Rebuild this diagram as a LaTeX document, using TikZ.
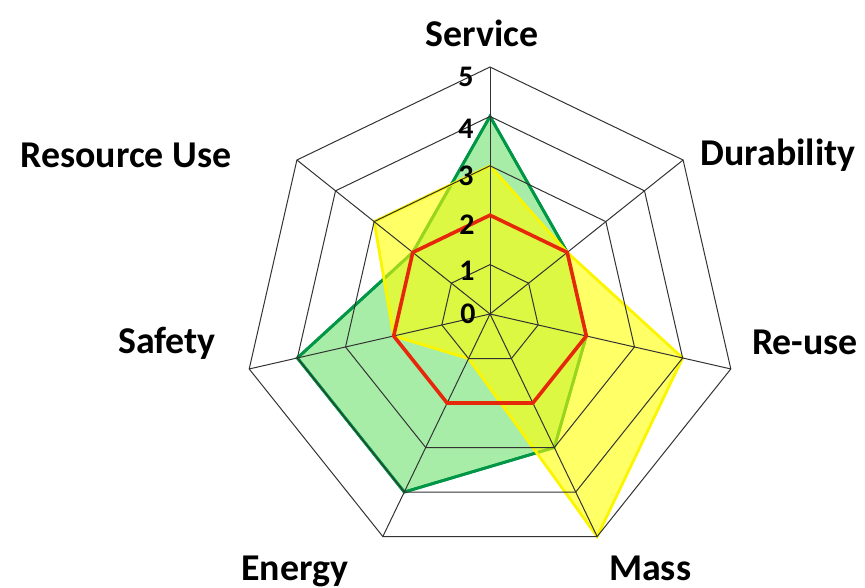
\documentclass[tikz,border=0pt]{standalone}
\usepackage{fontspec}
\setmainfont{Carlito}
\usetikzlibrary{calc}
\definecolor{gfill}{RGB}{80,220,80}
\definecolor{gline}{RGB}{0,150,70}
\definecolor{yfill}{RGB}{255,255,0}
\definecolor{yline}{RGB}{252,245,0}
\definecolor{rline}{RGB}{230,40,10}
\tikzset{
  axislbl/.style={font=\bfseries\fontsize{38}{40}\selectfont, inner sep=0pt},
  ticklbl/.style={font=\bfseries\fontsize{30}{32}\selectfont, inner sep=0pt},
  gridline/.style={draw=black!80, line width=1bp, line join=miter},
  greenseries/.style={draw=gline, fill=gfill, fill opacity=0.5, line width=2.8bp, line join=miter},
  yellowseries/.style={draw=yline, fill=yfill, fill opacity=0.6, line width=2.8bp, line join=miter},
  redseries/.style={draw=rline, line width=3.6bp, line join=miter}
}
\begin{document}
\begin{tikzpicture}[x=1bp,y=-1bp]
\useasboundingbox (0,0) rectangle (865,588);
\coordinate (O) at (490,314);
% grid coordinates
\foreach \i in {0,...,6}{
  \foreach \k in {1,...,5}{
    \coordinate (g\i-\k) at ($(O)+({-90+\i*360/7}:{\k*49.4})$);
  }
}
% series coordinates
\foreach \i/\v in {0/4,1/2,2/2,3/3,4/4,5/4,6/2}{
  \coordinate (G\i) at ($(O)+({-90+\i*360/7}:{\v*49.4})$);
}
\foreach \i/\v in {0/3,1/2,2/4,3/5,4/1,5/2,6/3}{
  \coordinate (Y\i) at ($(O)+({-90+\i*360/7}:{\v*49.4})$);
}
\foreach \i/\v in {0/2,1/2,2/2,3/2,4/2,5/2,6/2}{
  \coordinate (R\i) at ($(O)+({-90+\i*360/7}:{\v*49.4})$);
}
% green series
\path[greenseries] (G0) -- (G1) -- (G2) -- (G3) -- (G4) -- (G5) -- (G6) -- cycle;
\draw[draw=gline, line width=2.8bp, line join=miter] (G0) -- (G1) -- (G2) -- (G3) -- (G4) -- (G5) -- (G6) -- cycle;
% yellow series
\path[yellowseries] (Y0) -- (Y1) -- (Y2) -- (Y3) -- (Y4) -- (Y5) -- (Y6) -- cycle;
% grid
\foreach \k in {1,...,5}{
  \draw[gridline] (g0-\k) -- (g1-\k) -- (g2-\k) -- (g3-\k) -- (g4-\k) -- (g5-\k) -- (g6-\k) -- cycle;
}
\foreach \i in {0,...,6}{
  \draw[gridline] (O) -- (g\i-5);
}
% red series
\draw[redseries] (R0) -- (R1) -- (R2) -- (R3) -- (R4) -- (R5) -- (R6) -- cycle;
% tick labels
\node[ticklbl] (t0) at (468,314) {0};
\node[ticklbl] (t1) at (467,271) {1};
\node[ticklbl] (t2) at (467,225) {2};
\node[ticklbl] (t3) at (466,176) {3};
\node[ticklbl] (t4) at (466,129) {4};
\node[ticklbl] (t5) at (466,77) {5};
% axis labels
\node[axislbl] (lserv) at (482,33) {Service};
\node[axislbl] (ldur) at (778,155) {Durability};
\node[axislbl] (lre) at (805,342) {Re-use};
\node[axislbl, anchor=base west] (lmass) at (609,580) {Mass};
\node[axislbl, anchor=base west] (lene) at (241,580) {Energy};
\node[axislbl] (lsaf) at (167,343) {Safety};
\node[axislbl] (lres) at (126,155) {Resource Use};
\end{tikzpicture}
\end{document}
